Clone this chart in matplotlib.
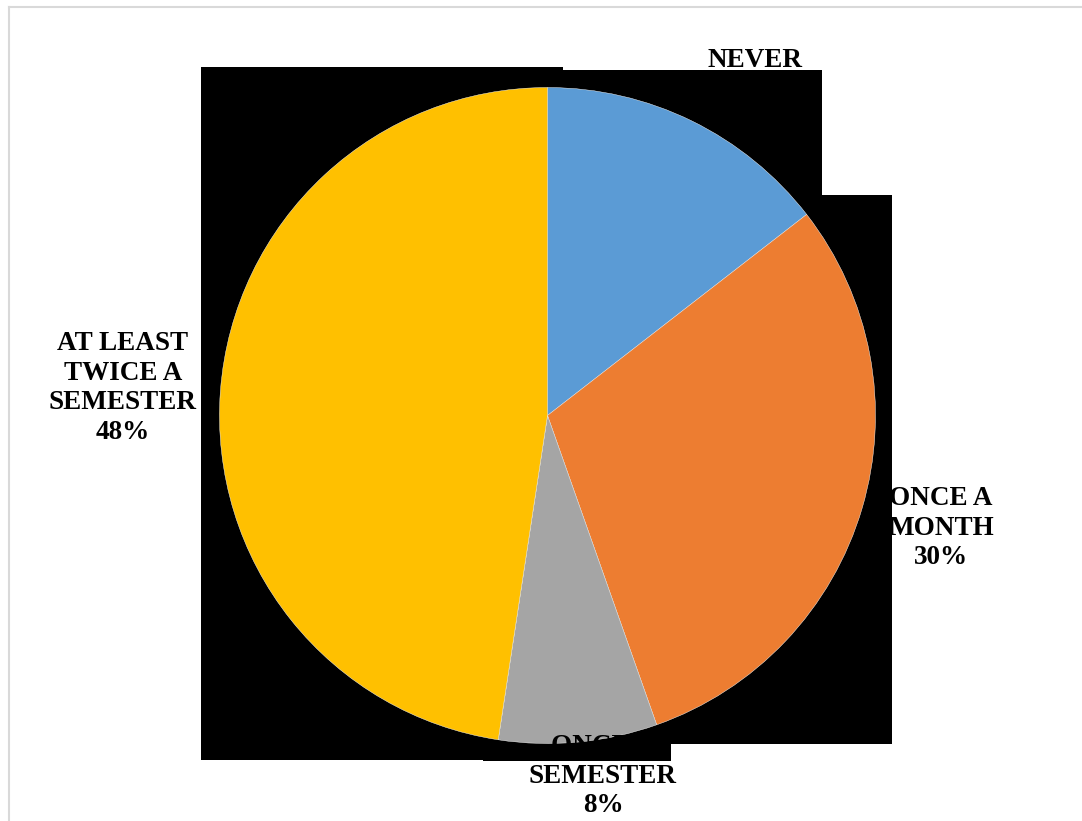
import matplotlib
matplotlib.use("Agg")
import matplotlib.pyplot as plt
from matplotlib.patches import Rectangle

categories = ["NEVER", "ONCE A\nMONTH", "ONCE A\nSEMESTER", "AT LEAST\nTWICE A\nSEMESTER"]
values = [14.5, 30.1, 7.8, 47.6]
pct_labels = ["14%", "30%", "8%", "48%"]
colors = ["#5B9BD5", "#ED7D31", "#A5A5A5", "#FFC000"]

W, H = 1082, 821
fig = plt.figure(figsize=(W / 100, H / 100), dpi=100)
ax = fig.add_axes([0, 0, 1, 1])

def Y(y):
    return H - y

# black artefact boxes (pixel coords: x0, ytop, x1, ybottom)
boxes_under = [(201, 67, 563, 760), (563, 70, 822, 744), (822, 195, 892, 744)]
boxes_over = [(483, 744, 671, 761)]
for x0, y0, x1, y1 in boxes_under:
    ax.add_patch(Rectangle((x0, Y(y1)), x1 - x0, y1 - y0, facecolor="black",
                           edgecolor="none", zorder=1))
for x0, y0, x1, y1 in boxes_over:
    ax.add_patch(Rectangle((x0, Y(y1)), x1 - x0, y1 - y0, facecolor="black",
                           edgecolor="none", zorder=4))

wedges, _ = ax.pie(values, colors=colors, startangle=90, counterclock=False,
                   center=(547.5, Y(415.5)), radius=328, frame=True,
                   wedgeprops=dict(edgecolor="white", linewidth=0.3))
for w in wedges:
    w.set_zorder(2)

font = dict(family="Liberation Serif", fontweight="bold", fontsize=19.5,
            ha="center", va="center", linespacing=1.24, color="black")
label_pos = [(755, 75, 0.5), (941, 528, 0.5), (603, 776, 3), (123, 388, 3)]
for cat, p, (x, y, z) in zip(categories, pct_labels, label_pos):
    ax.text(x, Y(y), f"{cat}\n{p}", zorder=z, **font)

ax.set_xlim(0, W)
ax.set_ylim(0, H)
ax.set_aspect("auto")
ax.axis("off")

# light outer frame
fig.add_artist(plt.Line2D([9 / W, 9 / W], [0, 1 - 7 / H], color="#d9d9d9", lw=1.5))
fig.add_artist(plt.Line2D([9 / W, 1], [1 - 7 / H, 1 - 7 / H], color="#d9d9d9", lw=1.5))

fig.savefig("out.png", dpi=100, facecolor="white")
